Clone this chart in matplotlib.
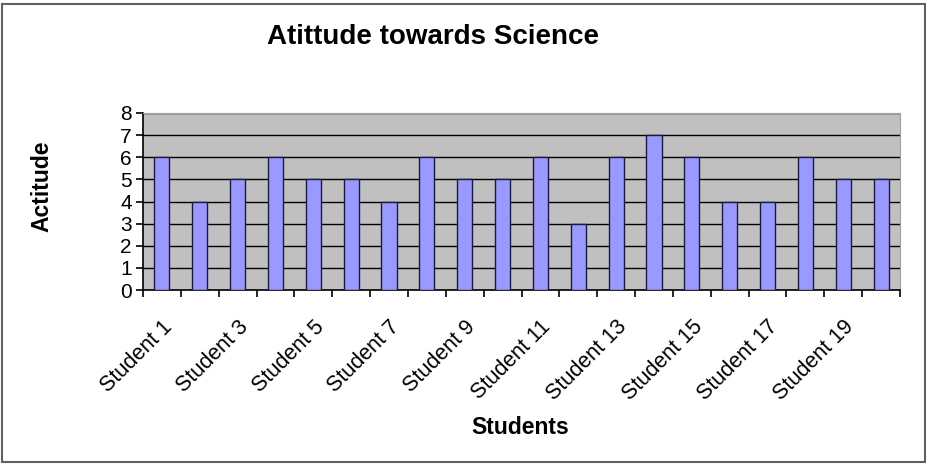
import numpy as np
import matplotlib
matplotlib.use('Agg')
from matplotlib import pyplot as plt
from matplotlib.patches import Rectangle

students = ['Student %d' % i for i in range(1, 21)]
attitude = [6, 4, 5, 6, 5, 5, 4, 6, 5, 5, 6, 3, 6, 7, 6, 4, 4, 6, 5, 5]
y_ticks = [0, 1, 2, 3, 4, 5, 6, 7, 8]

plt.rcParams['font.family'] = ['Liberation Sans', 'DejaVu Sans']

fig = plt.figure(figsize=(9.36, 4.66), dpi=100)
ax = fig.add_axes([143 / 936, 1 - 290 / 466, (900 - 143) / 936, (290 - 113) / 466])

# chart frame
fig.patches.append(Rectangle((2 / 936, 4 / 466), 923 / 936, 458 / 466, transform=fig.transFigure,
                             fill=False, edgecolor='#606060', linewidth=1.5))

ax.set_facecolor('#C0C0C0')
x = np.arange(len(students))
ax.bar(x, attitude, width=0.4, color='#9999FF', edgecolor='#1a1a40', linewidth=1.0, zorder=3)

ax.set_xlim(-0.5, len(students) - 0.5)
ax.set_ylim(0, 8)
ax.set_yticks(y_ticks)
ax.yaxis.grid(True, color='black', linewidth=1.0, zorder=1)
ax.set_axisbelow(True)

for s in ['top', 'right']:
    ax.spines[s].set_color('#a0a0a0')
ax.spines['left'].set_linewidth(1.2)
ax.spines['bottom'].set_linewidth(1.2)

# tick marks between categories, labels on every other bar
ax.set_xticks(np.arange(-0.5, len(students), 1.0), minor=False)
ax.set_xticklabels([])
ax.set_xticks(x[::2], minor=True)
ax.set_xticklabels(students[::2], minor=True, rotation=45, ha='right', rotation_mode='anchor',
                   fontsize=15.5)
ax.tick_params(axis='x', which='major', direction='out', length=5, width=1.2)
ax.tick_params(axis='x', which='minor', length=0, pad=19)
ax.tick_params(axis='y', direction='out', length=5, width=1.2, labelsize=15, pad=3)

fig.text(0.463, 0.92, 'Atittude towards Science', ha='center', va='center',
         fontsize=20, fontweight='bold')
fig.text(42 / 936, 1 - 186 / 466, 'Actitude', ha='center', va='center', rotation=90,
         fontsize=16.5, fontweight='bold')
fig.text(0.556, 0.082, 'Students', ha='center', va='center', fontsize=16.5, fontweight='bold')

fig.savefig('out.png', dpi=100)
